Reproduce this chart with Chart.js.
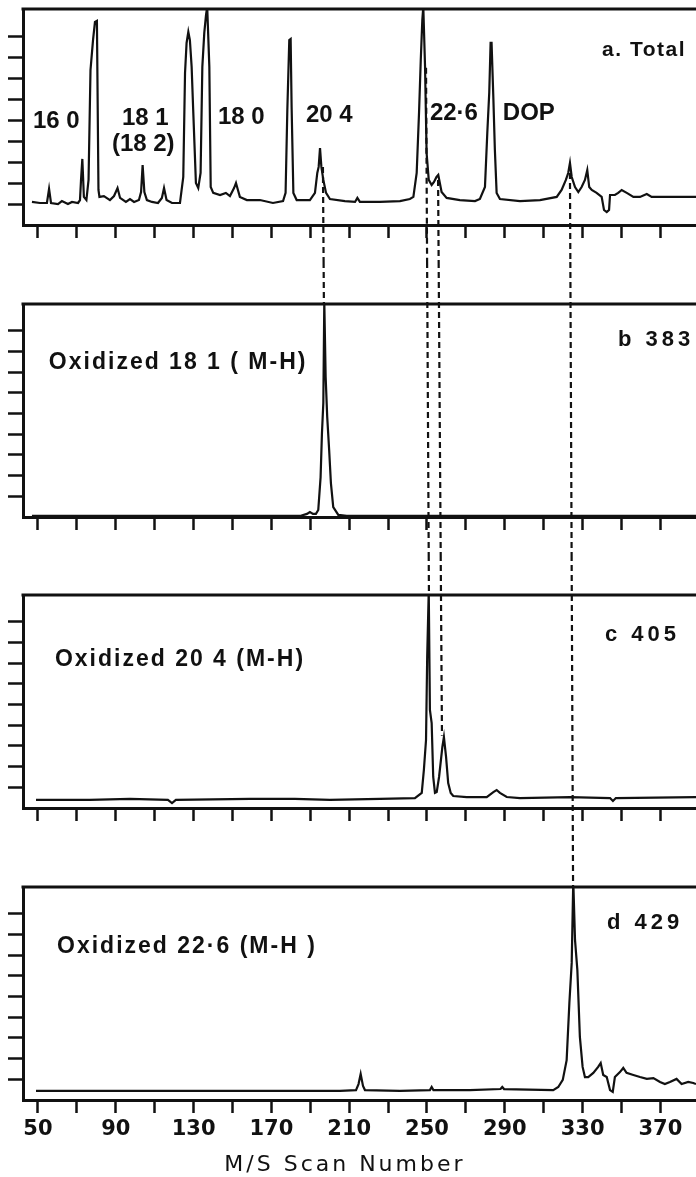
<!DOCTYPE html>
<html>
<head>
<meta charset="utf-8">
<script src="https://cdn.jsdelivr.net/npm/chart.js@4.4.1/dist/chart.umd.min.js"></script>
<style>
  html, body { margin: 0; padding: 0; background: #fff; }
  body { width: 696px; height: 1177px; position: relative; overflow: hidden; }
  canvas { position: absolute; left: 0; }
</style>
</head>
<body>
<canvas id="panelA" width="696" height="262" style="top:0px"></canvas>
<canvas id="panelB" width="696" height="293" style="top:262px"></canvas>
<canvas id="panelC" width="696" height="290" style="top:555px"></canvas>
<canvas id="panelD" width="696" height="332" style="top:845px"></canvas>
<script>
// total ion trace (scan number / relative intensity)
const totalScan = [46.9, 51.0, 54.6, 55.7, 56.7, 60.3, 62.3, 65.4, 67.5, 70.6,
    71.6, 72.1, 72.8, 73.6, 74.9, 76.0, 77.0, 78.3, 79.3, 80.3,
    81.1, 81.6, 83.9, 87.0, 89.1, 90.9, 92.2, 95.2, 97.3, 99.4,
    101.9, 103.0, 103.8, 104.7, 106.0, 108.6, 111.7, 113.7, 114.8, 116.1,
    118.9, 123.0, 124.7, 125.6, 126.4, 127.3, 128.1, 129.0, 129.8, 131.2,
    132.4, 133.6, 134.5, 135.5, 136.4, 137.0, 138.1, 138.8, 140.1, 143.6,
    146.6, 148.7, 150.8, 151.8, 152.8, 153.8, 157.4, 164.1, 170.8, 176.0,
    177.3, 178.2, 179.2, 179.9, 180.4, 181.3, 183.0, 189.8, 192.4, 193.6,
    194.3, 195.0, 195.7, 196.7, 198.1, 200.1, 207.8, 213.0, 214.2, 215.5,
    225.8, 236.1, 241.2, 243.0, 244.7, 245.9, 246.8, 247.6, 248.1, 249.0,
    249.8, 250.9, 252.4, 253.6, 254.9, 255.8, 257.5, 260.1, 266.9, 274.7,
    277.2, 279.8, 281.0, 282.0, 282.7, 283.2, 284.1, 284.9, 285.8, 287.5,
    297.8, 308.1, 316.7, 319.2, 321.4, 322.6, 323.5, 324.4, 326.1, 327.8,
    329.5, 331.2, 332.4, 333.4, 334.7, 337.2, 339.8, 341.0, 342.4, 343.6,
    344.1, 346.6, 348.3, 350.1, 352.7, 356.1, 359.5, 363.0, 365.5, 369.8,
    388.3];
const totalInt = [1.10, 1.05, 1.05, 1.72, 1.05, 1.00, 1.14, 1.00, 1.10, 1.05,
    1.19, 2.10, 3.15, 1.34, 1.19, 2.15, 7.39, 8.82, 9.68, 9.73,
    1.67, 1.34, 1.38, 1.19, 1.38, 1.76, 1.29, 1.10, 1.24, 1.10,
    1.19, 1.57, 2.86, 1.57, 1.19, 1.10, 1.05, 1.29, 1.76, 1.19,
    1.05, 1.05, 2.29, 7.25, 8.68, 9.21, 8.82, 7.54, 5.49, 2.00,
    1.76, 2.48, 7.54, 9.16, 10.02, 10.4, 7.54, 1.81, 1.53, 1.43,
    1.53, 1.38, 1.76, 2.00, 1.67, 1.34, 1.19, 1.19, 1.05, 1.14,
    1.53, 5.49, 8.82, 8.87, 5.63, 1.53, 1.19, 1.19, 1.53, 2.48,
    2.77, 3.67, 2.77, 2.15, 1.53, 1.24, 1.14, 1.10, 1.29, 1.10,
    1.10, 1.14, 1.24, 1.34, 2.48, 5.34, 7.87, 9.78, 10.4, 7.54,
    3.43, 2.15, 1.91, 2.05, 2.29, 2.39, 1.57, 1.29, 1.19, 1.14,
    1.24, 1.81, 4.39, 6.30, 8.68, 8.68, 6.11, 3.58, 1.53, 1.24,
    1.14, 1.19, 1.34, 1.67, 2.15, 2.48, 2.96, 2.29, 1.81, 1.57,
    1.81, 2.15, 2.62, 1.81, 1.67, 1.53, 1.34, 0.72, 0.62, 0.72,
    1.43, 1.43, 1.53, 1.67, 1.53, 1.34, 1.34, 1.48, 1.34, 1.34,
    1.34];

// m/z 383
const ox181Scan = [46.9, 184.7, 188.3, 189.8, 191.4, 192.9, 194.1, 195.3, 196.0, 196.7,
    197.2, 197.9, 198.7, 199.7, 200.6, 201.8, 204.4, 208.7, 388.3];
const ox181Int = [0.05, 0.05, 0.15, 0.24, 0.15, 0.15, 0.34, 1.93, 4.06, 5.51,
    10.4, 6.77, 4.84, 3.24, 1.64, 0.48, 0.10, 0.05, 0.05];

// m/z 405
const ox204Scan = [49.0, 76.7, 97.3, 116.8, 118.9, 120.9, 159.0, 182.1, 200.1, 225.8,
    243.8, 247.3, 248.4, 249.5, 250.1, 250.9, 251.5, 252.4, 253.2, 254.1,
    255.0, 256.2, 257.0, 257.9, 258.7, 259.8, 260.9, 262.2, 263.5, 270.4,
    280.7, 284.1, 285.8, 287.5, 291.0, 297.8, 323.5, 344.1, 345.6, 347.1,
    388.3];
const ox204Int = [0.39, 0.39, 0.44, 0.39, 0.24, 0.39, 0.44, 0.44, 0.39, 0.44,
    0.48, 0.73, 1.84, 3.29, 7.30, 10.5, 4.74, 4.11, 1.50, 0.73,
    0.77, 1.50, 2.18, 2.95, 3.43, 2.47, 1.21, 0.73, 0.58, 0.53,
    0.53, 0.77, 0.87, 0.73, 0.53, 0.48, 0.53, 0.48, 0.34, 0.48,
    0.53];

// m/z 429
const ox226Scan = [49.0, 92.2, 133.3, 179.6, 205.3, 213.5, 214.8, 215.9, 217.1, 218.1,
    236.1, 251.5, 252.4, 253.3, 272.1, 287.8, 288.7, 289.6, 314.9, 317.5,
    319.8, 321.8, 323.2, 324.4, 325.2, 326.1, 327.3, 328.6, 330.0, 331.2,
    332.9, 335.5, 338.0, 339.3, 340.6, 342.4, 344.1, 345.5, 346.6, 349.2,
    350.9, 352.6, 356.1, 359.5, 363.0, 366.4, 369.8, 372.3, 374.9, 378.3,
    380.9, 384.3, 386.9, 388.3];
const ox226Int = [0.44, 0.44, 0.44, 0.44, 0.44, 0.48, 0.77, 1.26, 0.68, 0.48,
    0.44, 0.48, 0.63, 0.48, 0.48, 0.53, 0.63, 0.53, 0.48, 0.63,
    0.97, 1.93, 4.69, 6.63, 10.6, 7.74, 6.29, 3.05, 1.60, 1.11,
    1.11, 1.31, 1.60, 1.79, 1.21, 1.11, 0.48, 0.39, 1.11, 1.35,
    1.55, 1.31, 1.21, 1.11, 1.02, 1.06, 0.87, 0.77, 0.87, 1.02,
    0.77, 0.87, 0.82, 0.77];

// axis ticks
const xTicks = [50, 70, 90, 110, 130, 150, 170, 190, 210, 230, 250, 270, 290, 310, 330, 350, 370];
const xTickLabels = [50, 90, 130, 170, 210, 250, 290, 330, 370];
const yTicks = [1, 2, 3, 4, 5, 6, 7, 8, 9];

// peak names on the total trace
const peakNames = ['16 0', '18 1', '(18 2)', '18 0', '20 4', '22·6', 'DOP'];
const peakNameScan = [47.4, 93.2, 88.0, 142.5, 187.8, 251.5, 289.0];
const peakNameInt = [4.96, 5.10, 3.86, 5.15, 5.25, 5.34, 5.34];

// panel tags and ion captions
const panelTags = ['a. Total', 'b 383', 'c 405', 'd 429'];
const tagScan = [340.0, 348.2, 341.5, 342.5];
const tagInt = [8.35, 8.56, 8.37, 8.56];
const ionCaptions = ['', 'Oxidized 18 1 ( M-H)', 'Oxidized 20 4 (M-H)', 'Oxidized 22·6 (M-H )'];
const captionScan = [0, 55.6, 58.7, 59.8];
const captionInt = [0, 7.45, 7.16, 7.40];

// dashed guides joining a peak in one panel to the same species below
const linkFromPanel = [0, 0, 0, 0];
const linkToPanel = [1, 2, 2, 3];
const linkFromScan = [196.5, 249.5, 255.7, 323.5];
const linkToScan = [197.0, 251.0, 257.7, 325.1];
const linkFromInt = [2.77, 7.5, 2.15, 2.48];
const linkToInt = [10.3, 10.3, 3.5, 10.3];

const axisTitle = 'M/S Scan Number';
const axisTitleScan = 207.8;

const ink = '#111';
const charts = [];

const links = {
    id: 'links',
    afterDraw(chart) {
        if (charts.length < 4) return;
        const idx = charts.indexOf(chart);
        const top = chart.canvas.offsetTop;
        const ctx = chart.ctx;
        ctx.save();
        ctx.strokeStyle = ink;
        ctx.lineWidth = 2.2;
        ctx.setLineDash([6, 4]);
        linkFromScan.forEach((s, i) => {
            if (idx < linkFromPanel[i] || idx > linkToPanel[i]) return;
            const a = charts[linkFromPanel[i]];
            const b = charts[linkToPanel[i]];
            const x0 = a.scales.x.getPixelForValue(s);
            const y0 = a.canvas.offsetTop + a.scales.y.getPixelForValue(linkFromInt[i]);
            const x1 = b.scales.x.getPixelForValue(linkToScan[i]);
            const y1 = b.canvas.offsetTop + b.scales.y.getPixelForValue(linkToInt[i]);
            const ya = Math.max(y0, top);
            const yb = Math.min(y1, top + chart.height);
            if (yb <= ya) return;
            const at = yy => x0 + (x1 - x0) * (yy - y0) / (y1 - y0);
            ctx.beginPath();
            ctx.moveTo(at(ya), ya - top);
            ctx.lineTo(at(yb), yb - top);
            ctx.stroke();
        });
        ctx.restore();
    }
};

function makePanel(id, index, scans, ints, padTop, axisHeight, last) {
    const texts = [];
    if (index === 0) {
        peakNames.forEach((t, i) => texts.push({ text: t, scan: peakNameScan[i], value: peakNameInt[i],
            font: 'bold 24px "Liberation Sans"', spacing: 0 }));
        texts.push({ text: panelTags[0], scan: tagScan[0], value: tagInt[0],
            font: 'bold 21px "Liberation Sans"', spacing: 1.5 });
    } else {
        texts.push({ text: ionCaptions[index], scan: captionScan[index], value: captionInt[index],
            font: 'bold 23px "Liberation Sans"', spacing: 2 });
        texts.push({ text: panelTags[index], scan: tagScan[index], value: tagInt[index],
            font: 'bold 22px "Liberation Sans"', spacing: 4 });
    }

    const annotate = {
        id: 'annotate',
        afterDatasetsDraw(chart) {
            const { ctx, chartArea, scales: { x, y } } = chart;
            ctx.save();
            ctx.fillStyle = ink;
            ctx.textBaseline = 'middle';
            texts.forEach(t => {
                ctx.font = t.font;
                ctx.letterSpacing = t.spacing + 'px';
                ctx.fillText(t.text, x.getPixelForValue(t.scan), y.getPixelForValue(t.value));
            });
            // top edge of the frame
            ctx.strokeStyle = ink;
            ctx.lineWidth = 3;
            ctx.beginPath();
            ctx.moveTo(chartArea.left - 1.5, chartArea.top);
            ctx.lineTo(chartArea.right, chartArea.top);
            ctx.stroke();
            if (last) {
                ctx.font = '22px "DejaVu Sans"';
                ctx.letterSpacing = '3px';
                ctx.textAlign = 'center';
                ctx.fillText(axisTitle, x.getPixelForValue(axisTitleScan), x.bottom - 12);
            }
            ctx.restore();
        }
    };

    const chart = new Chart(document.getElementById(id), {
        type: 'line',
        data: {
            datasets: [{
                data: scans.map((s, i) => ({ x: s, y: ints[i] })),
                borderColor: ink,
                borderWidth: 2.2,
                pointRadius: 0,
                tension: 0,
                fill: false
            }]
        },
        options: {
            responsive: false,
            animation: false,
            events: [],
            layout: { padding: { top: padTop, left: 0, right: 0, bottom: 0 } },
            plugins: { legend: { display: false }, tooltip: { enabled: false } },
            scales: {
                x: {
                    type: 'linear',
                    min: 42.3,
                    max: 388.3,
                    afterBuildTicks: s => { s.ticks = xTicks.map(v => ({ value: v })); },
                    afterFit: s => { s.height = axisHeight; },
                    border: { display: true, color: ink, width: 3 },
                    grid: { drawOnChartArea: false, drawTicks: true, tickLength: 13,
                        tickColor: ink, tickWidth: 2.5, color: ink },
                    ticks: {
                        display: last,
                        autoSkip: false,
                        maxRotation: 0,
                        padding: 4,
                        color: ink,
                        font: { family: 'DejaVu Sans', size: 21, weight: 'bold' },
                        callback: v => xTickLabels.includes(v) ? String(v) : ''
                    }
                },
                y: {
                    type: 'linear',
                    min: 0,
                    max: 10.3,
                    afterBuildTicks: s => { s.ticks = yTicks.map(v => ({ value: v })); },
                    afterFit: s => { s.width = 23; },
                    border: { display: true, color: ink, width: 3 },
                    grid: { drawOnChartArea: false, drawTicks: true, tickLength: 15,
                        tickColor: ink, tickWidth: 2.5, color: ink },
                    ticks: { display: false }
                }
            }
        },
        plugins: [annotate, links]
    });
    charts.push(chart);
}

makePanel('panelA', 0, totalScan, totalInt, 9, 37, false);
makePanel('panelB', 1, ox181Scan, ox181Int, 42, 38, false);
makePanel('panelC', 2, ox204Scan, ox204Int, 40, 37, false);
makePanel('panelD', 3, ox226Scan, ox226Int, 42, 77, true);

charts.forEach(c => c.draw());
</script>
</body>
</html>
